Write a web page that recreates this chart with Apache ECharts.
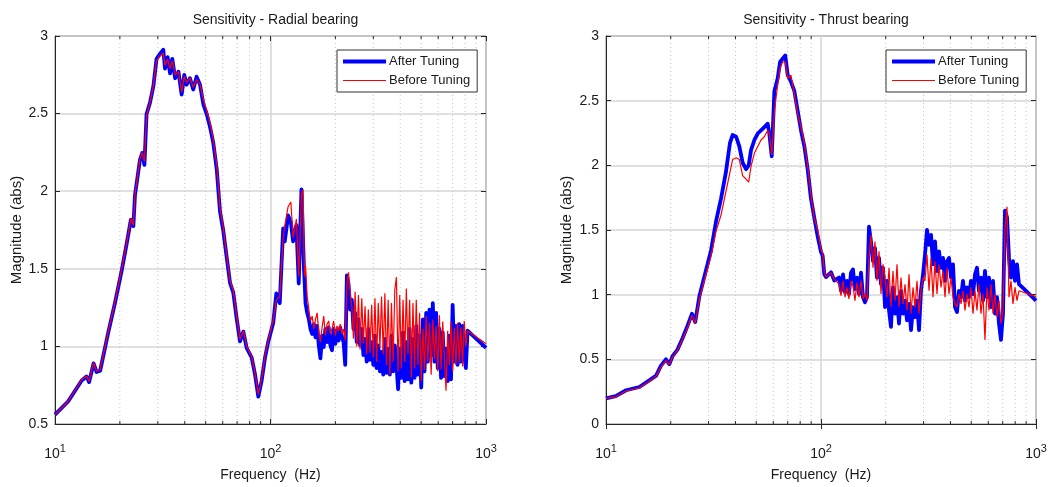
<!DOCTYPE html>
<html><head><meta charset="utf-8">
<script src="https://cdn.jsdelivr.net/npm/echarts@6/dist/echarts.min.js"></script>
<style>html,body{margin:0;padding:0;background:#fff}#c{width:1054px;height:487px}</style>
</head><body><div id="c"></div>
<script>
// ---------- Data ----------
const titles = ['Sensitivity - Radial bearing', 'Sensitivity - Thrust bearing'];
const seriesNames = ['After Tuning', 'Before Tuning'];
const xLabel = 'Frequency  (Hz)';
const yLabel = 'Magnitude (abs)';
const minorFreqs = [20,30,40,50,60,70,80,90,200,300,400,500,600,700,800,900];

const radialFreq = [10,11.5,13.3,14.0,14.4,15.1,15.3,15.6,16.2,17.7,19.0,20.4,21.5,22.5,23.1,23.5,24.8,25.4,26.0,26.6,27.6,28.6,29.6,30.7,31.8,32.4,33.3,34.2,35.0,36.1,37.4,38.7,39.8,40.8,42.3,43.8,45.4,47.1,48.8,50.6,52.4,54.3,56.3,58.3,60.4,62.6,64.9,67.2,69.7,72.2,74.8,77.5,81.8,84.7,87.8,91.0,94.3,97.7,
  103,106.5,110.4,114.5,116.5,120.7,124.3,127.3,131.9,135.2,139.2,141.7,143.0,144.2,
  145.4,148.0,150.7,153.3,156.1,158.9,161.7,164.6,167.5,170.5,173.5,176.6,179.8,183.0,186.2,189.6,192.9,196.4,199.9,203.4,207.0,210.7,214.5,218.3,222.2,226.2,230.1,234.3,238.5,242.7,247.0,251.4,255.9,260.5,265.1,269.8,274.6,279.5,284.4,289.5,294.7,300.0,305.3,310.7,316.3,321.9,327.6,333.5,339.4,345.5,351.6,357.9,364.2,370.7,377.3,384.0,390.9,397.8,404.9,412.1,419.5,426.9,434.5,442.3,450.2,458.2,466.4,474.7,483.2,491.8,500.6,509.5,518.6,527.8,537.2,546.8,556.6,566.5,576.6,586.9,597.3,607.9,618.8,629.8,641.0,652.4,664.0,675.9,687.9,700.2,712.7,725.4,738.3,751.5,764.8,778.5,792.4,806.4,
  820.9,1000];
const radialAfter = [0.56,0.645,0.78,0.806,0.77,0.89,0.9,0.835,0.843,1.095,1.283,1.49,1.66,1.817,1.775,1.974,2.204,2.246,2.17,2.497,2.571,2.675,2.853,2.885,2.912,2.79,2.864,2.759,2.853,2.728,2.77,2.623,2.749,2.686,2.728,2.655,2.738,2.686,2.56,2.497,2.414,2.309,2.142,1.869,1.744,1.576,1.409,1.346,1.178,1.032,1.095,0.99,0.927,0.822,0.676,0.78,0.927,1.032,
  1.153,1.342,1.279,1.76,1.677,1.844,1.80,1.677,1.781,1.405,2.012,2.0,1.50,1.40,
  1.279,1.216,1.174,1.112,1.080,1.143,1.059,1.132,1.007,0.923,1.070,0.996,1.112,1.028,1.122,1.007,0.975,1.112,1.017,1.101,1.038,1.122,1.059,1.028,0.881,1.457,1.405,1.237,1.300,1.112,1.216,1.028,1.174,1.007,1.112,0.944,1.049,0.902,1.112,0.913,1.028,0.881,1.070,0.860,1.007,0.839,0.965,0.818,1.049,0.829,0.986,0.818,1.070,0.839,1.007,0.881,0.724,0.986,0.797,1.091,0.776,1.028,0.787,1.112,0.766,1.049,0.797,1.132,0.818,1.070,0.735,1.174,0.839,1.216,0.902,1.237,0.944,1.279,0.902,1.216,0.860,1.112,0.797,1.091,0.808,0.986,0.776,1.070,0.787,1.268,0.902,1.132,0.881,1.143,0.902,1.132,0.944,0.860,
  1.101,0.99];
const radialBefore = [0.56,0.645,0.785,0.81,0.775,0.895,0.905,0.84,0.85,1.1,1.29,1.5,1.665,1.825,1.78,1.98,2.21,2.25,2.19,2.49,2.57,2.68,2.84,2.87,2.89,2.81,2.85,2.79,2.84,2.75,2.77,2.64,2.74,2.70,2.73,2.67,2.72,2.69,2.59,2.52,2.44,2.33,2.17,1.89,1.76,1.59,1.42,1.36,1.19,1.045,1.1,1.0,0.935,0.83,0.69,0.79,0.94,1.04,
  1.17,1.30,1.32,1.70,1.78,1.90,1.93,1.70,1.82,1.45,1.98,2.01,1.60,1.45,
  1.520,1.321,1.237,1.164,1.195,1.112,1.174,1.216,1.091,1.028,1.122,1.195,1.070,1.143,1.164,1.080,1.112,1.164,1.070,1.132,1.101,1.143,1.080,1.112,1.038,1.405,1.478,1.342,1.258,1.05,1.352,1.00,1.331,0.98,1.310,1.02,1.258,0.95,1.237,0.96,1.268,0.93,1.310,0.90,1.279,0.99,1.321,0.95,1.342,0.88,1.300,0.818,1.279,0.90,1.363,1.446,0.839,1.331,0.86,1.300,0.90,1.373,0.95,1.300,0.80,1.279,0.86,1.300,0.88,1.216,0.776,1.112,0.85,1.195,0.902,1.153,0.818,1.174,0.92,1.132,0.84,1.20,0.85,1.16,0.92,0.714,1.10,0.88,1.16,0.839,1.12,0.88,1.153,0.90,1.122,0.87,1.164,1.0,
  1.101,1.017];

const thrustFreq = [10,11.1,12.4,14.3,15.9,17.1,18.0,19.0,19.7,20.4,21.5,22.7,24.0,25.1,26.0,27.2,29.2,30.8,32.5,34.3,36.1,37.7,38.8,40.3,41.7,43.2,44.8,46.1,47.3,49.0,50.8,52.6,54.5,56.5,57.5,59.0,60.7,62.9,64.5,66.3,68.2,70.0,72.5,75.2,77.9,80.7,83.7,86.7,89.8,93.1,96.5,100,101.8,103.6,105.5,111.3,115.3,
  121.3,123.9,126.6,129.3,132.1,134.9,137.9,140.8,143.9,147.0,150.2,153.5,156.8,160.2,163.6,167.2,170.8,174.5,178.3,182.1,186.1,190.1,194.3,198.5,202.8,207.2,211.6,216.2,220.9,225.7,230.6,235.6,240.7,245.9,251.2,256.7,262.2,267.9,273.7,279.6,285.7,291.8,298.2,304.6,311.2,318.0,324.9,331.9,339.1,346.4,353.9,361.6,369.4,377.4,385.5,393.9,402.4,411.1,420.0,429.1,438.4,447.9,457.6,467.5,477.6,487.9,498.5,509.3,520.3,531.5,543.0,554.8,566.8,579.0,591.6,604.3,617.4,630.9,644.5,658.5,672.7,687.3,702.2,717.4,733.0,748.8,765.0,781.6,798.5,815.8,833.6,
  1000];
const thrustAfter = [0.198,0.216,0.261,0.286,0.337,0.374,0.45,0.50,0.462,0.525,0.575,0.663,0.764,0.852,0.789,0.99,1.191,1.342,1.568,1.744,1.945,2.171,2.234,2.221,2.146,2.02,1.97,2.0,2.12,2.196,2.246,2.271,2.296,2.322,2.246,2.07,2.573,2.673,2.799,2.824,2.849,2.698,2.648,2.573,2.422,2.271,2.146,1.97,1.744,1.593,1.45,1.33,1.30,1.16,1.136,1.173,1.11,
  1.132,1.030,1.157,1.018,1.107,1.005,1.170,1.195,1.043,1.132,1.005,1.170,0.980,0.942,0.980,1.525,1.411,1.259,1.360,1.132,1.284,1.081,1.208,0.904,1.107,0.878,0.751,1.056,0.853,0.980,0.777,1.030,0.853,0.954,0.802,0.929,0.726,0.904,0.827,0.954,0.726,1.030,1.157,1.310,1.500,1.386,1.462,1.234,1.411,1.183,1.335,1.208,1.284,1.107,1.259,1.284,1.132,1.234,0.904,0.866,1.030,0.980,1.107,0.954,1.056,0.980,1.107,1.005,1.157,1.208,1.030,1.132,0.954,1.183,0.980,1.132,0.904,1.107,0.853,0.980,0.777,0.650,0.853,1.65,1.60,1.284,1.132,1.259,1.107,1.234,1.081,
  0.954];
const thrustBefore = [0.198,0.21,0.255,0.28,0.33,0.37,0.44,0.49,0.46,0.52,0.57,0.655,0.75,0.84,0.78,0.97,1.16,1.30,1.492,1.618,1.794,1.945,2.045,2.058,2.045,1.92,1.894,1.87,1.995,2.095,2.146,2.196,2.221,2.271,2.246,2.08,2.422,2.623,2.749,2.799,2.80,2.673,2.698,2.548,2.397,2.296,2.171,1.995,1.769,1.593,1.50,1.35,1.32,1.18,1.136,1.17,1.12,
  1.081,0.992,1.107,0.980,1.056,0.967,1.107,1.069,0.954,1.094,0.980,1.107,0.967,1.005,0.954,1.284,1.462,1.208,1.411,1.107,1.335,1.005,1.234,1.132,0.980,1.208,0.904,1.183,0.954,1.234,0.904,1.132,0.929,1.081,0.878,1.157,0.853,1.056,0.904,1.107,0.853,1.030,1.132,1.107,1.310,1.030,1.284,0.980,1.259,1.005,1.234,1.056,1.183,0.980,1.208,1.005,1.132,0.980,0.929,0.904,1.005,0.929,1.030,0.878,1.005,0.904,1.056,0.853,1.030,0.878,1.081,0.853,1.005,0.650,1.056,0.878,1.081,0.853,1.005,0.827,0.954,0.777,0.878,1.513,1.68,0.980,1.107,0.929,1.056,0.954,1.030,
  0.985];

// ---------- Chart ----------
const FONT = '"Liberation Sans", Arial, Helvetica, sans-serif';
const AX = '#262626';
const TXT = '#1a1a1a';
const grids = [
  {left: 55, top: 36, width: 431, height: 398},
  {left: 606, top: 36, width: 430, height: 398}
];
const yRanges = [[0.5, 3], [0, 3]];
const legendPos = [{left: 337, top: 50}, {left: 886, top: 50}];
const yNameGap = [31, 32];
const dataSets = [[radialFreq, radialAfter, radialBefore], [thrustFreq, thrustAfter, thrustBefore]];

const option = {
  animation: false,
  backgroundColor: '#fff',
  textStyle: {fontFamily: FONT},
  title: [], grid: [], xAxis: [], yAxis: [], series: [], legend: []
};

grids.forEach((g, i) => {
  option.title.push({
    text: titles[i], left: g.left + g.width / 2, top: 8, textAlign: 'center',
    textStyle: {fontFamily: FONT, fontSize: 14, fontWeight: 'normal', color: TXT}
  });
  option.grid.push(Object.assign({show: true, borderColor: AX, borderWidth: 1, backgroundColor: '#fff'}, g));
  option.xAxis.push({
    type: 'log', logBase: 10, min: 10, max: 1000, gridIndex: i,
    axisLine: {onZero: false, lineStyle: {color: AX}},
    axisTick: {inside: true, length: 5, lineStyle: {color: AX}},
    splitLine: {show: true, lineStyle: {color: '#d6d6d6', width: 1.5}},
    axisLabel: {
      margin: 21, color: TXT, showMinLabel: true, showMaxLabel: true,
      formatter: v => '{b|10}{s|' + Math.round(Math.log10(v)) + '}',
      rich: {
        b: {fontSize: 14, fontFamily: FONT, color: TXT, lineHeight: 14, padding: [4, 0, 0, 0]},
        s: {fontSize: 11, fontFamily: FONT, color: TXT, lineHeight: 11, padding: [0, 0, 7, 0]}
      }
    },
    name: xLabel, nameLocation: 'middle', nameGap: 44,
    nameTextStyle: {fontSize: 14, fontFamily: FONT, color: TXT}
  });
  option.xAxis.push({
    type: 'log', logBase: 10, min: 10, max: 1000, gridIndex: i, position: 'top',
    axisLine: {show: false}, axisTick: {inside: true, length: 5, lineStyle: {color: AX}},
    axisLabel: {show: false}, splitLine: {show: false}
  });
  const [ymin, ymax] = yRanges[i];
  option.yAxis.push({
    type: 'value', min: ymin, max: ymax, interval: 0.5, gridIndex: i,
    axisLine: {show: true, lineStyle: {color: AX}},
    axisTick: {show: true, inside: true, length: 5, lineStyle: {color: AX}},
    splitLine: {show: true, lineStyle: {color: '#d6d6d6', width: 1.5}},
    axisLabel: {fontSize: 14, color: TXT, margin: 7, fontFamily: FONT},
    name: yLabel, nameLocation: 'middle', nameGap: yNameGap[i],
    nameTextStyle: {fontSize: 15, fontFamily: FONT, color: TXT}
  });
  option.yAxis.push({
    type: 'value', min: ymin, max: ymax, interval: 0.5, gridIndex: i, position: 'right',
    axisLine: {show: false}, axisTick: {show: true, inside: true, length: 5, lineStyle: {color: AX}},
    axisLabel: {show: false}, splitLine: {show: false}
  });
  option.series.push({
    type: 'custom', xAxisIndex: 2 * i, yAxisIndex: 2 * i, silent: true, z: 1,
    data: minorFreqs.map(f => [f]),
    renderItem: (params, api) => {
      const f = api.value(0);
      const b = api.coord([f, ymin]);
      const t = api.coord([f, ymax]);
      const st = {stroke: '#c4c4c4', lineWidth: 1, lineDash: [1, 3]};
      const tk = {stroke: AX, lineWidth: 1};
      return {type: 'group', children: [
        {type: 'line', shape: {x1: b[0], y1: b[1], x2: t[0], y2: t[1]}, style: st},
        {type: 'line', shape: {x1: b[0], y1: b[1], x2: b[0], y2: b[1] - 3}, style: tk},
        {type: 'line', shape: {x1: t[0], y1: t[1], x2: t[0], y2: t[1] + 3}, style: tk}
      ]};
    }
  });
  const [fr, a, bf] = dataSets[i];
  option.series.push({
    name: seriesNames[0], type: 'line', xAxisIndex: 2 * i, yAxisIndex: 2 * i,
    data: fr.map((f, k) => [f, a[k]]), showSymbol: false, symbol: 'none',
    lineStyle: {color: '#0000ff', width: 3.8, join: 'round'}, itemStyle: {color: '#0000ff'}, z: 3
  });
  option.series.push({
    name: seriesNames[1], type: 'line', xAxisIndex: 2 * i, yAxisIndex: 2 * i,
    data: fr.map((f, k) => [f, bf[k]]), showSymbol: false, symbol: 'none',
    lineStyle: {color: '#ff0000', width: 1.2}, itemStyle: {color: '#ff0000'}, z: 4
  });
  option.legend.push({
    data: [
      {name: seriesNames[0], lineStyle: {width: 4, color: '#0000ff'}},
      {name: seriesNames[1], lineStyle: {width: 1.2, color: '#ff0000'}}
    ],
    orient: 'vertical', left: legendPos[i].left, top: legendPos[i].top,
    backgroundColor: '#fff', borderColor: '#333', borderWidth: 1, borderRadius: 0,
    padding: [5, 7, 5, 4], itemGap: 6, itemWidth: 43, itemHeight: 14,
    itemStyle: {opacity: 0, borderWidth: 0},
    textStyle: {fontSize: 13, fontFamily: FONT, color: TXT, padding: [0, 0, 0, -2]},
    selectedMode: false
  });
});

const chart = echarts.init(document.getElementById('c'), null, {renderer: 'canvas'});
chart.setOption(option);
</script></body></html>
